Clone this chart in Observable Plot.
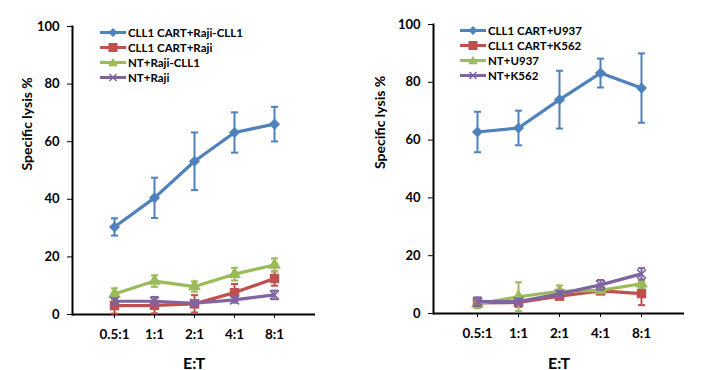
<!DOCTYPE html>
<html>
<head>
<meta charset="utf-8">
<script src="https://cdn.jsdelivr.net/npm/d3@7"></script>
<script src="https://cdn.jsdelivr.net/npm/@observablehq/plot@0.6"></script>
<style>
  html, body { margin: 0; padding: 0; background: #fff; }
  #chart { position: relative; width: 709px; height: 370px; overflow: hidden; font-family: Lato, "Open Sans", sans-serif; }
  .panel { position: absolute; top: 0; }
  .legend { position: absolute; font-weight: bold; font-size: 11.5px; color: #000; }
  .legend .row { display: flex; align-items: center; height: 15px; white-space: nowrap; }
  .legend svg { display: block; margin-right: 2px; }
</style>
</head>
<body>
<div id="chart"></div>
<script>
// ---- data ----
const categories = ["0.5:1", "1:1", "2:1", "4:1", "8:1"];
const yTicks = [0, 20, 40, 60, 80, 100];

const leftSeries = ["CLL1 CART+Raji-CLL1", "CLL1 CART+Raji", "NT+Raji-CLL1", "NT+Raji"];
const leftBlue = [30.4, 40.5, 53.2, 63.2, 66.1];
const leftBlueErr = [3, 7, 10, 7, 6];
const leftRed = [3.1, 3.2, 3.7, 7.6, 12.5];
const leftRedErr = [2.8, 2.8, 3, 3, 2.5];
const leftGreen = [7.1, 11.6, 9.7, 14, 17.2];
const leftGreenErr = [2, 2, 1.8, 2.2, 2.3];
const leftPurple = [4.6, 4.6, 3.9, 5.1, 6.8];
const leftPurpleErr = [1, 1.5, 0.8, 1, 1.5];

const rightSeries = ["CLL1 CART+U937", "CLL1 CART+K562", "NT+U937", "NT+K562"];
const rightBlue = [62.8, 64.2, 74, 83.2, 78];
const rightBlueErr = [7, 6, 10, 5, 12];
const rightRed = [3.7, 3.8, 6, 7.8, 6.9];
const rightRedErr = [1.5, 1.5, 1, 1, 4];
const rightGreen = [3.3, 5.8, 7.7, 8, 10.3];
const rightGreenErr = [1.5, 5, 2, 1, 1.5];
const rightPurple = [4.1, 4.1, 6.8, 9.9, 13.7];
const rightPurpleErr = [1.5, 1, 1, 1.7, 2];

const colors = ["#4F81BD", "#C0504D", "#9BBB59", "#8064A2"];
const symbols = ["diamond2", "square", "triangle", "times"];
const symbolR = [5, 5.3, 4.8, 4.2];

// custom horizontal cap symbol for error bars
const capSymbol = { draw(ctx) { ctx.moveTo(-3.5, 0); ctx.lineTo(3.5, 0); } };

function buildPanel(names, means, errs, cfg) {
  const marks = [];
  marks.push(Plot.ruleY([0], { stroke: "#000", strokeWidth: 2 }));
  marks.push(Plot.frame({ anchor: "left", stroke: "#000", strokeWidth: 2 }));
  names.forEach((name, i) => {
    const rows = categories.map((c, j) => ({ cat: c, v: means[i][j], e: errs[i][j] }));
    const col = colors[i];
    marks.push(Plot.ruleX(rows, { x: "cat", y1: d => Math.max(0, d.v - d.e), y2: d => d.v + d.e, stroke: col, strokeWidth: 2 }));
    marks.push(Plot.dot(rows, { x: "cat", y: d => d.v + d.e, symbol: capSymbol, stroke: col, strokeWidth: 2 }));
    marks.push(Plot.dot(rows.filter(d => d.v - d.e >= 0), { x: "cat", y: d => d.v - d.e, symbol: capSymbol, stroke: col, strokeWidth: 2 }));
    marks.push(Plot.line(rows, { x: "cat", y: "v", stroke: col, strokeWidth: 3.2 }));
    if (symbols[i] === "times") {
      marks.push(Plot.dot(rows, { x: "cat", y: "v", symbol: "times", r: symbolR[i], stroke: col, strokeWidth: 1.6 }));
    } else {
      marks.push(Plot.dot(rows, { x: "cat", y: "v", symbol: symbols[i], r: symbolR[i], fill: col, stroke: "none" }));
    }
  });
  marks.push(Plot.axisY({ ticks: yTicks, tickSize: 5, tickPadding: 8, fontSize: 13, label: null }));
  marks.push(Plot.axisX({ tickSize: 4, tickPadding: 11, fontSize: 13.5, label: null }));
  marks.push(Plot.text(["Specific lysis %"], { frameAnchor: "left", dx: cfg.titleDx, rotate: -90, fontSize: 14, fontWeight: "bold" }));
  marks.push(Plot.text(["E:T"], { frameAnchor: "bottom", dy: cfg.labelDy, fontSize: 16, fontWeight: "bold" }));

  const svg = Plot.plot({
    width: cfg.width,
    height: 370,
    marginLeft: cfg.ml,
    marginRight: cfg.mr,
    marginTop: cfg.mt,
    marginBottom: cfg.mb,
    style: { fontFamily: "Lato, 'Open Sans', sans-serif", fontWeight: "bold", color: "#000", background: "transparent", overflow: "visible" },
    x: { type: "point", domain: categories, padding: 1 },
    y: { domain: [0, 100] },
    marks
  });

  const panel = document.createElement("div");
  panel.className = "panel";
  panel.style.left = cfg.left + "px";
  panel.appendChild(svg);

  const legend = document.createElement("div");
  legend.className = "legend";
  legend.style.left = cfg.legendX + "px";
  legend.style.top = cfg.legendY + "px";
  names.forEach((name, i) => {
    const row = document.createElement("div");
    row.className = "row";
    const col = colors[i];
    let marker = "";
    if (symbols[i] === "diamond2") marker = `<path d="M13,3 L17.5,7.5 L13,12 L8.5,7.5Z" fill="${col}"/>`;
    else if (symbols[i] === "square") marker = `<rect x="8.5" y="3" width="9" height="9" fill="${col}"/>`;
    else if (symbols[i] === "triangle") marker = `<path d="M13,2.8 L17.8,11.2 L8.2,11.2Z" fill="${col}"/>`;
    else marker = `<path d="M9.5,4 L16.5,11 M16.5,4 L9.5,11" stroke="${col}" stroke-width="1.5"/>`;
    row.innerHTML = `<svg width="26" height="15"><line x1="0" x2="26" y1="7.5" y2="7.5" stroke="${col}" stroke-width="3"/>${marker}</svg><span>${name}</span>`;
    legend.appendChild(row);
  });
  panel.appendChild(legend);
  return panel;
}

const chart = document.getElementById("chart");
chart.appendChild(buildPanel(leftSeries,
  [leftBlue, leftRed, leftGreen, leftPurple],
  [leftBlueErr, leftRedErr, leftGreenErr, leftPurpleErr],
  { left: 0, width: 350, ml: 72, mr: 35, mt: 26, mb: 56, titleDx: -45, labelDy: 54, legendX: 100, legendY: 25 }));
chart.appendChild(buildPanel(rightSeries,
  [rightBlue, rightRed, rightGreen, rightPurple],
  [rightBlueErr, rightRedErr, rightGreenErr, rightPurpleErr],
  { left: 355, width: 354, ml: 78, mr: 25, mt: 24, mb: 57, titleDx: -53, labelDy: 55, legendX: 105, legendY: 23 }));
</script>
</body>
</html>
